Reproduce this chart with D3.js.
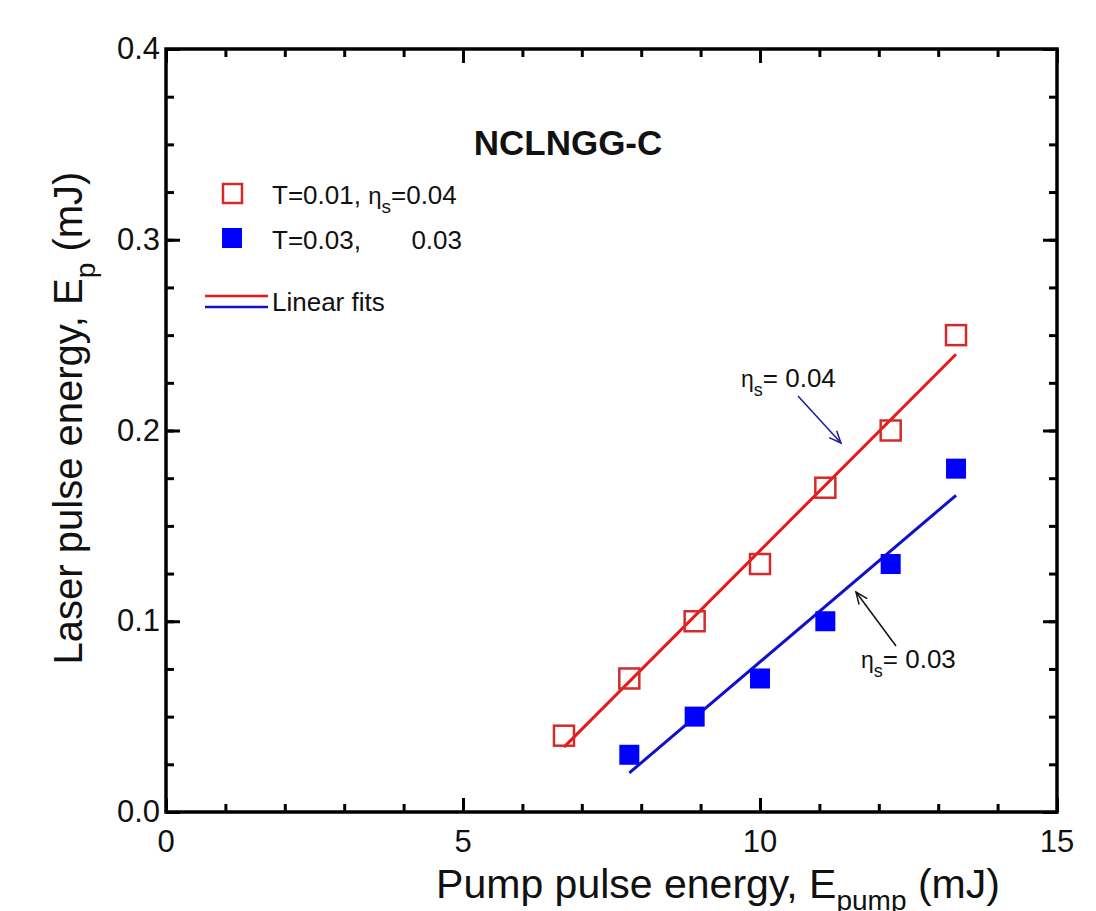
<!DOCTYPE html>
<html>
<head>
<meta charset="utf-8">
<script src="https://cdn.jsdelivr.net/npm/d3@7"></script>
<style>
  body { margin: 0; background: #fff; }
  text { font-family: "Liberation Sans", Arial, sans-serif; fill: #111; }
</style>
</head>
<body>
<svg id="chart" width="1096" height="911"></svg>
<script>
// Data
var pumpRed = [6.7, 7.8, 8.9, 10.0, 11.1, 12.2, 13.3];
var laserRed = [0.04, 0.07, 0.10, 0.13, 0.17, 0.20, 0.25];
var pumpBlue = [7.8, 8.9, 10.0, 11.1, 12.2, 13.3];
var laserBlue = [0.03, 0.05, 0.07, 0.10, 0.13, 0.18];
// Linear fit end points (as drawn)
var fitRedX = [6.7, 13.3], fitRedY = [0.034, 0.240];
var fitBlueX = [7.8, 13.3], fitBlueY = [0.0205, 0.166];
var xTicks = [0, 5, 10, 15];
var yTicks = [0.0, 0.1, 0.2, 0.3, 0.4];

var svg = d3.select('#chart');
var plotL = 166, plotR = 1057, plotT = 49, plotB = 812;

var x = d3.scaleLinear().domain([0, 15]).range([plotL, plotR]);
var y = d3.scaleLinear().domain([0, 0.4]).range([plotB, plotT]);

var red = '#d42a2a', redLine = '#e81818', blue = '#0000ff', blueLine = '#1010cc';

// Axes: ticks pointing inward, mirrored on top / right
function tickAxis(axisFn, scale, major, minor, pos) {
  var g = svg.append('g').attr('transform', pos);
  g.append('g').call(axisFn(scale).tickValues(minor).tickSize(-8).tickFormat(''));
  g.append('g').call(axisFn(scale).tickValues(major).tickSize(-14).tickFormat(''));
  g.selectAll('path.domain').remove();
  g.selectAll('line').attr('stroke', '#000').attr('stroke-width', 3);
  return g;
}
var xMinor = d3.range(0, 15.01, 1), yMinor = d3.range(0, 0.401, 0.025);
tickAxis(d3.axisBottom, x, xTicks, xMinor, 'translate(0,' + plotB + ')');
tickAxis(d3.axisTop, x, xTicks, xMinor, 'translate(0,' + plotT + ')');
tickAxis(d3.axisLeft, y, yTicks, yMinor, 'translate(' + plotL + ',0)');
tickAxis(d3.axisRight, y, yTicks, yMinor, 'translate(' + plotR + ',0)');

svg.append('rect')
    .attr('x', plotL).attr('y', plotT)
    .attr('width', plotR - plotL).attr('height', plotB - plotT)
    .attr('fill', 'none').attr('stroke', '#000').attr('stroke-width', 3.5);

// Tick labels
svg.selectAll('text.xt').data(xTicks).enter().append('text')
    .attr('class', 'xt')
    .attr('x', function(d){ return x(d); })
    .attr('y', plotB + 40)
    .attr('text-anchor', 'middle')
    .style('font-size', '31px')
    .text(function(d){ return d; });
svg.selectAll('text.yt').data(yTicks).enter().append('text')
    .attr('class', 'yt')
    .attr('x', plotL - 6)
    .attr('y', function(d){ return y(d) + 10; })
    .attr('text-anchor', 'end')
    .style('font-size', '31px')
    .text(function(d){ return d.toFixed(1); });

// Axis titles
var xl = svg.append('text')
    .attr('x', 718).attr('y', 898)
    .attr('text-anchor', 'middle')
    .style('font-size', '41px');
xl.append('tspan').text('Pump pulse energy, E');
xl.append('tspan').attr('dy', 12).style('font-size', '28px').text('pump');
xl.append('tspan').attr('dy', -12).text(' (mJ)');

var yl = svg.append('text')
    .attr('transform', 'translate(82,418) rotate(-90)')
    .attr('text-anchor', 'middle')
    .style('font-size', '40px');
yl.append('tspan').text('Laser pulse energy, E');
yl.append('tspan').attr('dy', 13).style('font-size', '28px').text('p');
yl.append('tspan').attr('dy', -13).text(' (mJ)');

// Title
svg.append('text')
    .attr('x', 568).attr('y', 155)
    .attr('text-anchor', 'middle')
    .style('font-size', '35px').style('font-weight', 'bold')
    .text('NCLNGG-C');

// Fit lines
var line = d3.line().x(function(d){ return x(d[0]); }).y(function(d){ return y(d[1]); });
svg.append('path').datum(d3.zip(fitRedX, fitRedY))
    .attr('d', line).attr('fill', 'none').attr('stroke', redLine).attr('stroke-width', 3);
svg.append('path').datum(d3.zip(fitBlueX, fitBlueY))
    .attr('d', line).attr('fill', 'none').attr('stroke', blueLine).attr('stroke-width', 3);

// Markers
var ms = 20;
svg.selectAll('rect.red').data(d3.zip(pumpRed, laserRed)).enter().append('rect')
    .attr('class', 'red')
    .attr('x', function(d){ return x(d[0]) - ms/2; })
    .attr('y', function(d){ return y(d[1]) - ms/2; })
    .attr('width', ms).attr('height', ms)
    .attr('fill', 'none').attr('stroke', red).attr('stroke-width', 2.5);
svg.selectAll('rect.blue').data(d3.zip(pumpBlue, laserBlue)).enter().append('rect')
    .attr('class', 'blue')
    .attr('x', function(d){ return x(d[0]) - ms/2; })
    .attr('y', function(d){ return y(d[1]) - ms/2; })
    .attr('width', ms).attr('height', ms)
    .attr('fill', blue);

// Legend
svg.append('rect').attr('x', 223).attr('y', 184).attr('width', 19).attr('height', 19)
    .attr('fill', 'none').attr('stroke', red).attr('stroke-width', 2.5);
svg.append('rect').attr('x', 222).attr('y', 228).attr('width', 20).attr('height', 20)
    .attr('fill', blue);
var l1 = svg.append('text').attr('x', 272).attr('y', 204).style('font-size', '26px');
l1.append('tspan').text('T=0.01, ');
l1.append('tspan').style('font-size', '24px').text('η');
l1.append('tspan').attr('dy', 9).style('font-size', '19px').text('s');
l1.append('tspan').attr('dy', -9).text('=0.04');
svg.append('text').attr('x', 272).attr('y', 249).style('font-size', '26px').text('T=0.03,');
svg.append('text').attr('x', 462).attr('y', 249).attr('text-anchor', 'end')
    .style('font-size', '26px').text('0.03');

svg.append('line').attr('x1', 205).attr('x2', 268).attr('y1', 296).attr('y2', 296)
    .attr('stroke', redLine).attr('stroke-width', 2.5);
svg.append('line').attr('x1', 205).attr('x2', 268).attr('y1', 307).attr('y2', 307)
    .attr('stroke', blueLine).attr('stroke-width', 2.5);
svg.append('text').attr('x', 272).attr('y', 311).style('font-size', '26px').text('Linear fits');

// Annotations
function eta(px, py, val) {
  var t = svg.append('text').attr('x', px).attr('y', py).style('font-size', '26px');
  t.append('tspan').style('font-size', '23px').text('η');
  t.append('tspan').attr('dy', 9).style('font-size', '18px').text('s');
  t.append('tspan').attr('dy', -9).text('= ' + val);
}
eta(741, 387, '0.04');
eta(861, 668, '0.03');

function arrow(x1, y1, x2, y2, col) {
  svg.append('line').attr('x1', x1).attr('y1', y1).attr('x2', x2).attr('y2', y2)
      .attr('stroke', col).attr('stroke-width', 1.5);
  var a = Math.atan2(y2 - y1, x2 - x1), h = 13, w = 0.4;
  var p = [[x2 - h * Math.cos(a - w), y2 - h * Math.sin(a - w)], [x2, y2],
           [x2 - h * Math.cos(a + w), y2 - h * Math.sin(a + w)]];
  svg.append('polyline').attr('points', p.join(' '))
      .attr('fill', 'none').attr('stroke', col).attr('stroke-width', 1.5);
}
arrow(798, 396, 841, 443, '#1a1a9a');
arrow(896, 646, 856, 592, '#111');
</script>
</body>
</html>
